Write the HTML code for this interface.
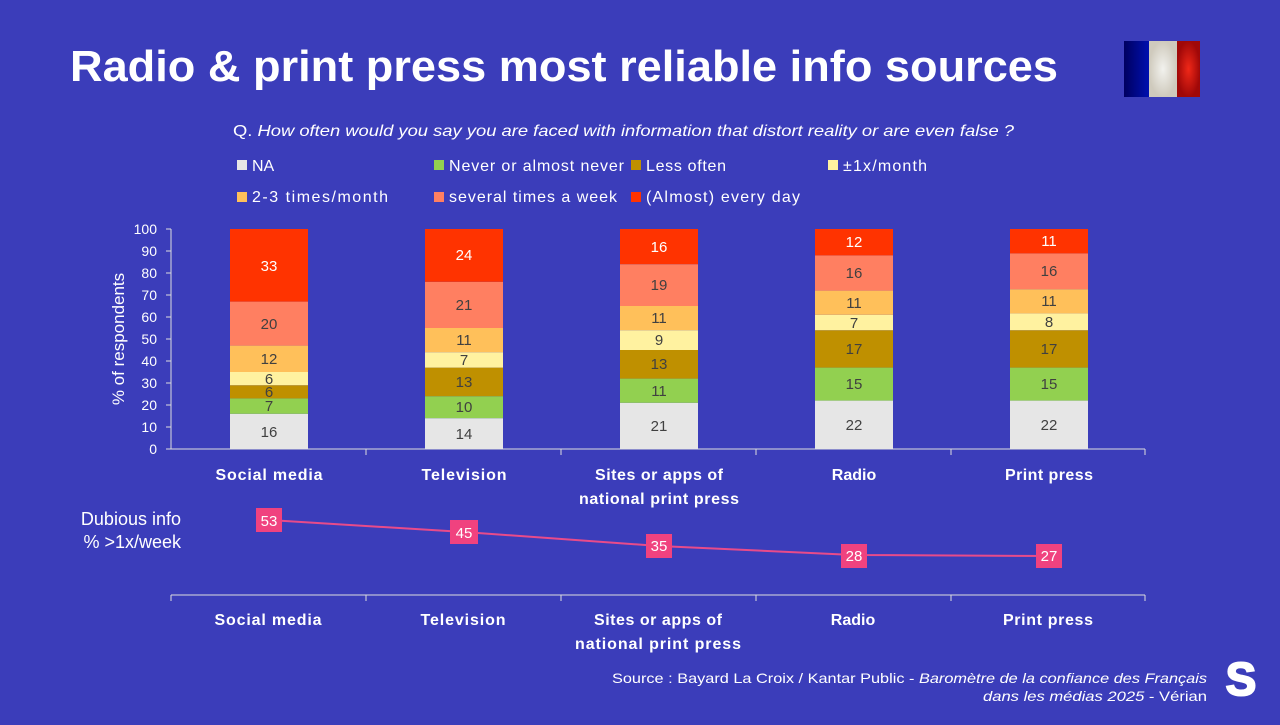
<!DOCTYPE html>
<html><head><meta charset="utf-8"><style>
body{margin:0;width:1280px;height:720px;background:#3B3DBA;overflow:hidden;font-family:"Liberation Sans",sans-serif}
</style></head><body>
<svg width="1280" height="720" viewBox="0 0 1280 720" xmlns="http://www.w3.org/2000/svg" font-family="Liberation Sans, sans-serif">
<rect width="1280" height="720" fill="#3B3DBA"/>
<text x="70" y="81" font-size="44" font-weight="bold" fill="#fff" textLength="988" lengthAdjust="spacingAndGlyphs">Radio &amp; print press most reliable info sources</text>
<defs><linearGradient id="fb" x1="0" x2="1"><stop offset="0" stop-color="#000060"/><stop offset="1" stop-color="#0010b0"/></linearGradient>
<radialGradient id="fw"><stop offset="0" stop-color="#f2f2ee"/><stop offset="1" stop-color="#cfcabd"/></radialGradient>
<radialGradient id="fr"><stop offset="0" stop-color="#f02818"/><stop offset="1" stop-color="#a00808"/></radialGradient></defs>
<rect x="1124" y="41" width="25" height="56" fill="url(#fb)"/><rect x="1149" y="41" width="28" height="56" fill="url(#fw)"/><rect x="1177" y="41" width="23" height="56" fill="url(#fr)"/>
<text x="233" y="136" font-size="16" fill="#fff" textLength="781" lengthAdjust="spacingAndGlyphs">Q. <tspan font-style="italic">How often would you say you are faced with information that distort reality or are  even false ?</tspan></text>
<g font-size="16" fill="#fff">
<rect x="237" y="160" width="10" height="10" fill="#E6E6E6"/><text x="252" y="171">NA</text>
<rect x="434" y="160" width="10" height="10" fill="#92D050"/><text x="449" y="171" textLength="175">Never or almost never</text>
<rect x="631" y="160" width="10" height="10" fill="#BF9000"/><text x="646" y="171" textLength="80">Less often</text>
<rect x="828" y="160" width="10" height="10" fill="#FFF2A0"/><text x="843" y="171" textLength="84">±1x/month</text>
<rect x="237" y="192" width="10" height="10" fill="#FFC05A"/><text x="252" y="202" textLength="136">2-3 times/month</text>
<rect x="434" y="192" width="10" height="10" fill="#FF7F61"/><text x="449" y="202" textLength="168">several times a week</text>
<rect x="631" y="192" width="10" height="10" fill="#FF3300"/><text x="646" y="202" textLength="154">(Almost) every day</text>
</g>
<g font-size="14" fill="#fff" text-anchor="end">
<text x="157" y="454">0</text><text x="157" y="432">10</text><text x="157" y="410">20</text><text x="157" y="388">30</text><text x="157" y="366">40</text><text x="157" y="344">50</text><text x="157" y="322">60</text><text x="157" y="300">70</text><text x="157" y="278">80</text><text x="157" y="256">90</text><text x="157" y="234">100</text>
</g>
<text transform="translate(124,339) rotate(-90)" font-size="17" fill="#fff" text-anchor="middle">% of respondents</text>
<g stroke="#ddd" stroke-width="1">
<line x1="171" y1="229" x2="171" y2="449"/>
<line x1="166" y1="449" x2="1145" y2="449"/>
<line x1="166" y1="229" x2="171" y2="229"/><line x1="166" y1="251" x2="171" y2="251"/><line x1="166" y1="273" x2="171" y2="273"/><line x1="166" y1="295" x2="171" y2="295"/><line x1="166" y1="317" x2="171" y2="317"/><line x1="166" y1="339" x2="171" y2="339"/><line x1="166" y1="361" x2="171" y2="361"/><line x1="166" y1="383" x2="171" y2="383"/><line x1="166" y1="405" x2="171" y2="405"/><line x1="166" y1="427" x2="171" y2="427"/>
<line x1="366" y1="449" x2="366" y2="455"/><line x1="561" y1="449" x2="561" y2="455"/><line x1="756" y1="449" x2="756" y2="455"/><line x1="951" y1="449" x2="951" y2="455"/><line x1="1145" y1="449" x2="1145" y2="455"/>
</g>
<g>
<rect x="230" y="413.8" width="78" height="35.2" fill="#E6E6E6"/><rect x="230" y="398.4" width="78" height="15.4" fill="#92D050"/><rect x="230" y="385.2" width="78" height="13.2" fill="#BF9000"/><rect x="230" y="372" width="78" height="13.2" fill="#FFF2A0"/><rect x="230" y="345.6" width="78" height="26.4" fill="#FFC05A"/><rect x="230" y="301.6" width="78" height="44" fill="#FF7F61"/><rect x="230" y="229" width="78" height="72.6" fill="#FF3300"/>
<rect x="425" y="418.2" width="78" height="30.8" fill="#E6E6E6"/><rect x="425" y="396.2" width="78" height="22" fill="#92D050"/><rect x="425" y="367.6" width="78" height="28.6" fill="#BF9000"/><rect x="425" y="352.2" width="78" height="15.4" fill="#FFF2A0"/><rect x="425" y="328" width="78" height="24.2" fill="#FFC05A"/><rect x="425" y="281.8" width="78" height="46.2" fill="#FF7F61"/><rect x="425" y="229" width="78" height="52.8" fill="#FF3300"/>
<rect x="620" y="402.8" width="78" height="46.2" fill="#E6E6E6"/><rect x="620" y="378.6" width="78" height="24.2" fill="#92D050"/><rect x="620" y="350" width="78" height="28.6" fill="#BF9000"/><rect x="620" y="330.2" width="78" height="19.8" fill="#FFF2A0"/><rect x="620" y="306" width="78" height="24.2" fill="#FFC05A"/><rect x="620" y="264.2" width="78" height="41.8" fill="#FF7F61"/><rect x="620" y="229" width="78" height="35.2" fill="#FF3300"/>
<rect x="815" y="400.6" width="78" height="48.4" fill="#E6E6E6"/><rect x="815" y="367.6" width="78" height="33" fill="#92D050"/><rect x="815" y="330.2" width="78" height="37.4" fill="#BF9000"/><rect x="815" y="314.8" width="78" height="15.4" fill="#FFF2A0"/><rect x="815" y="290.6" width="78" height="24.2" fill="#FFC05A"/><rect x="815" y="255.4" width="78" height="35.2" fill="#FF7F61"/><rect x="815" y="229" width="78" height="26.4" fill="#FF3300"/>
<rect x="1010" y="400.6" width="78" height="48.4" fill="#E6E6E6"/><rect x="1010" y="367.6" width="78" height="33" fill="#92D050"/><rect x="1010" y="330.2" width="78" height="37.4" fill="#BF9000"/><rect x="1010" y="313.4" width="78" height="16.8" fill="#FFF2A0"/><rect x="1010" y="289.2" width="78" height="24.2" fill="#FFC05A"/><rect x="1010" y="253.4" width="78" height="35.8" fill="#FF7F61"/><rect x="1010" y="229" width="78" height="24.4" fill="#FF3300"/>
</g>
<g font-size="15" fill="#404040" text-anchor="middle">
<text x="269" y="437">16</text><text x="269" y="411">7</text><text x="269" y="397">6</text><text x="269" y="384">6</text><text x="269" y="364">12</text><text x="269" y="329">20</text><text x="269" y="271" fill="#fff">33</text>
<text x="464" y="439">14</text><text x="464" y="412">10</text><text x="464" y="387">13</text><text x="464" y="365">7</text><text x="464" y="345">11</text><text x="464" y="310">21</text><text x="464" y="260" fill="#fff">24</text>
<text x="659" y="431">21</text><text x="659" y="396">11</text><text x="659" y="369">13</text><text x="659" y="345">9</text><text x="659" y="323">11</text><text x="659" y="290">19</text><text x="659" y="252" fill="#fff">16</text>
<text x="854" y="430">22</text><text x="854" y="389">15</text><text x="854" y="354">17</text><text x="854" y="328">7</text><text x="854" y="308">11</text><text x="854" y="278">16</text><text x="854" y="247" fill="#fff">12</text>
<text x="1049" y="430">22</text><text x="1049" y="389">15</text><text x="1049" y="354">17</text><text x="1049" y="327">8</text><text x="1049" y="306">11</text><text x="1049" y="276">16</text><text x="1049" y="246" fill="#fff">11</text>
</g>
<g font-size="16" font-weight="bold" fill="#fff" text-anchor="middle">
<text x="269" y="480" textLength="107">Social media</text><text x="464" y="480" textLength="85">Television</text><text x="659" y="480" textLength="128">Sites or apps of</text><text x="659" y="504" textLength="160">national print press</text><text x="854" y="480">Radio</text><text x="1049" y="480" textLength="88">Print press</text>
</g>
<text x="181" y="525" font-size="18" fill="#fff" text-anchor="end">Dubious info</text>
<text x="181" y="548" font-size="18" fill="#fff" text-anchor="end">% &gt;1x/week</text>
<polyline points="269,520 464,532 659,546 854,555 1049,556" fill="none" stroke="#E84B8A" stroke-width="2"/>
<g fill="#F0427F"><rect x="256" y="508" width="26" height="24"/><rect x="450" y="520" width="28" height="24"/><rect x="646" y="534" width="26" height="24"/><rect x="841" y="544" width="26" height="24"/><rect x="1036" y="544" width="26" height="24"/></g>
<g font-size="15" fill="#fff" text-anchor="middle"><text x="269" y="526">53</text><text x="464" y="538">45</text><text x="659" y="551">35</text><text x="854" y="561">28</text><text x="1049" y="561">27</text></g>
<g stroke="#ddd" stroke-width="1"><line x1="171" y1="595" x2="1145" y2="595"/>
<line x1="171" y1="595" x2="171" y2="601"/><line x1="366" y1="595" x2="366" y2="601"/><line x1="561" y1="595" x2="561" y2="601"/><line x1="756" y1="595" x2="756" y2="601"/><line x1="951" y1="595" x2="951" y2="601"/><line x1="1145" y1="595" x2="1145" y2="601"/></g>
<g font-size="16" font-weight="bold" fill="#fff" text-anchor="middle">
<text x="268" y="625" textLength="107">Social media</text><text x="463" y="625" textLength="85">Television</text><text x="658" y="625" textLength="128">Sites or apps of</text><text x="658" y="649" textLength="166">national print press</text><text x="853" y="625">Radio</text><text x="1048" y="625" textLength="90">Print press</text>
</g>
<g font-size="14" fill="#fff">
<text x="612" y="683" textLength="595" lengthAdjust="spacingAndGlyphs">Source : Bayard La Croix / Kantar Public - <tspan font-style="italic">Baromètre de la confiance des Français</tspan></text>
<text x="983" y="701" textLength="224" lengthAdjust="spacingAndGlyphs"><tspan font-style="italic">dans les médias 2025</tspan> - Vérian</text>
</g>
<text x="1241" y="695" font-size="46" font-weight="bold" fill="#fff" stroke="#fff" stroke-width="2" text-anchor="middle">S</text>
</svg>
</body></html>
